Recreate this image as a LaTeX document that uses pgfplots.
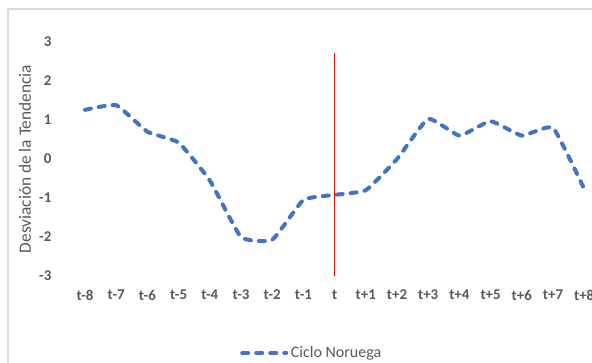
\documentclass[border=0pt]{standalone}
\usepackage{pgfplots}
\pgfplotsset{compat=1.18}
\usepackage{fontspec}
\setmainfont{Carlito}
\definecolor{txtgray}{HTML}{595959}
\definecolor{linblue}{HTML}{4472C4}
\definecolor{framegray}{HTML}{D9D9D9}
\begin{document}
\begin{tikzpicture}
\useasboundingbox (-52.05pt,-64.5pt) rectangle (391.95pt,207pt);
\clip (-52.05pt,-64.5pt) rectangle (391.95pt,207pt);
\draw[framegray, line width=0.9pt] (-46.05pt,-90pt) rectangle (430pt,200.25pt);
\begin{axis}[
  at={(0,0)}, anchor=south west,
  scale only axis,
  width=397.8pt, height=175.5pt,
  xmin=-0.5, xmax=16.5,
  ymin=-3, ymax=3,
  axis line style={draw=none},
  tick style={draw=none},
  xtick={0,...,16},
  xticklabels={t-8,t-7,t-6,t-5,t-4,t-3,t-2,t-1,t,t+1,t+2,t+3,t+4,t+5,t+6,t+7,t+8},
  ytick={-3,-2,-1,0,1,2,3},
  /pgf/number format/assume math mode=true,
  ticklabel style={font=\fontsize{11.2}{13}\selectfont\bfseries, text=txtgray},
  yticklabel style={xshift=-10pt},
  xticklabel style={yshift=-7pt},
  ylabel={Desviación de la Tendencia},
  ylabel style={at={(axis description cs:-0.0837,0.5)}, anchor=center, font=\fontsize{13}{15}\selectfont, text=txtgray},
  legend style={draw=none, fill=none, at={(axis description cs:0.4575,-0.329)}, anchor=center, font=\fontsize{12}{14}\selectfont, text=txtgray},
  legend image code/.code={\draw[#1] (0pt,0pt) -- (33pt,0pt);},
  clip=false,
]
\addplot[red, line width=1pt, forget plot] coordinates {(8,-3) (8,2.72)};
\addplot[linblue, line width=3pt, line cap=round, dash pattern=on 4.5pt off 6pt, smooth, tension=0.25] coordinates {
(0,1.26) (1,1.38) (2,0.70) (3,0.42) (4,-0.55) (5,-2.00) (6,-2.07) (7,-1.05) (8,-0.92)
(9,-0.80) (10,0.00) (11,1.03) (12,0.60) (13,0.97) (14,0.60) (15,0.80) (16,-0.77)};
\addlegendentry{Ciclo Noruega}
\end{axis}
\end{tikzpicture}
\end{document}
